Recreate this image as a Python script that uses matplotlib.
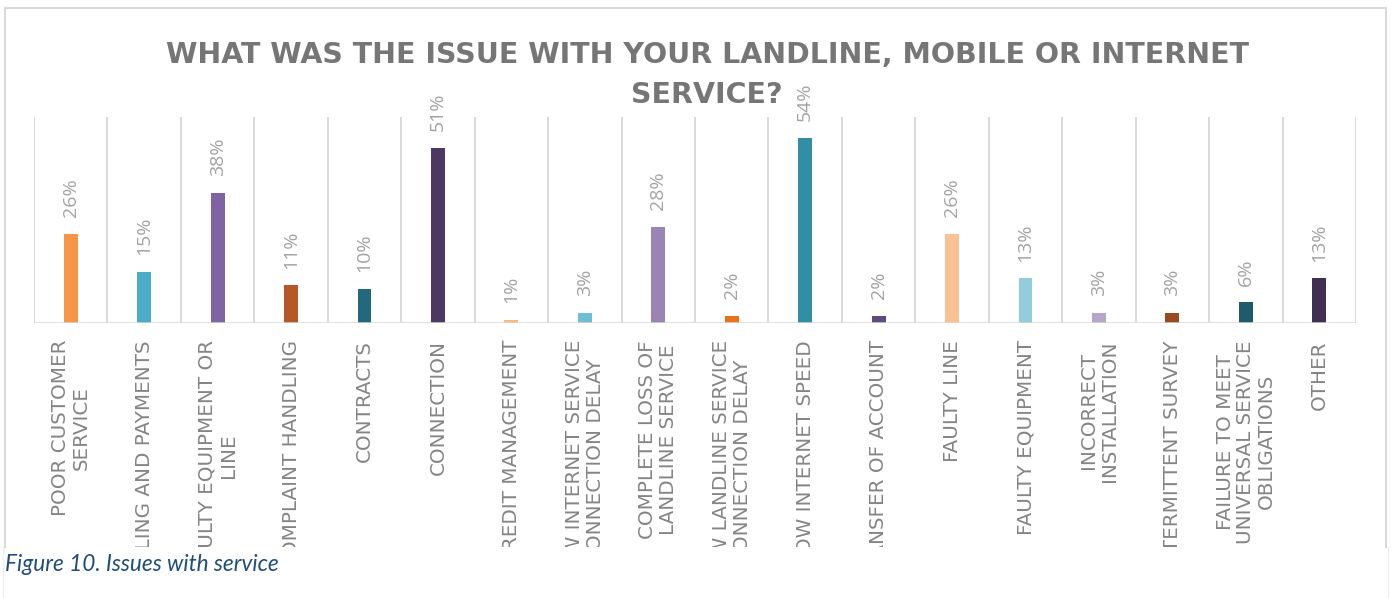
import matplotlib
matplotlib.use("Agg")
import matplotlib.pyplot as plt
from matplotlib import transforms
from matplotlib.lines import Line2D

categories = [
    "POOR CUSTOMER\nSERVICE",
    "BILLING AND PAYMENTS",
    "FAULTY EQUIPMENT OR\nLINE",
    "COMPLAINT HANDLING",
    "CONTRACTS",
    "CONNECTION",
    "CREDIT MANAGEMENT",
    "NEW INTERNET SERVICE\nCONNECTION DELAY",
    "COMPLETE LOSS OF\nLANDLINE SERVICE",
    "NEW LANDLINE SERVICE\nCONNECTION DELAY",
    "SLOW INTERNET SPEED",
    "TRANSFER OF ACCOUNT",
    "FAULTY LINE",
    "FAULTY EQUIPMENT",
    "INCORRECT\nINSTALLATION",
    "INTERMITTENT SURVEY",
    "FAILURE TO MEET\nUNIVERSAL SERVICE\nOBLIGATIONS",
    "OTHER",
]
percentages = [26, 15, 38, 11, 10, 51, 1, 3, 28, 2, 54, 2, 26, 13, 3, 3, 6, 13]
bar_colors = [
    "#F79646", "#4BACC6", "#8064A2", "#B65728", "#23697E", "#4D3863",
    "#F9B984", "#6FBFD3", "#9A84B5", "#E8731C", "#318EA5", "#5F4A7D",
    "#FAC192", "#93CDDD", "#B7A6CB", "#984B1E", "#1F5B6A", "#3F2F52",
]
title_lines = ["WHAT WAS THE ISSUE WITH YOUR LANDLINE, MOBILE OR INTERNET",
               "SERVICE?"]
caption = "Figure 10. Issues with service"

W, H = 1392, 598
fig = plt.figure(figsize=(W / 100, H / 100), dpi=100)
fig.patch.set_facecolor("white")


def fx(px):
    return px / W


def fy(py):
    return 1 - py / H


# plot area
ax = fig.add_axes([fx(34), fy(323), fx(1356) - fx(34), fy(117) - fy(323)])
ax.set_xlim(-0.5, len(categories) - 0.5)
ax.set_ylim(0, 60)
ax.axis("off")

grid_col = "#D9D9D9"
for b in range(len(categories) + 1):
    ax.axvline(b - 0.5, color=grid_col, lw=1.4, zorder=1)
ax.axhline(0, color=grid_col, lw=1.8, zorder=4)

x = list(range(len(categories)))
ax.bar(x, percentages, width=0.19, color=bar_colors, zorder=3)

for i, v in enumerate(percentages):
    ax.annotate(f"{v}%", (i, v), xytext=(0, 12), textcoords="offset points",
                rotation=90, ha="center", va="bottom", fontsize=14,
                family="Open Sans", color="#A3A3A3")

# chart frame, cut off at the bottom of the page region
clip = transforms.TransformedBbox(
    transforms.Bbox([[fx(5), fy(547)], [fx(1385), fy(8)]]), fig.transFigure)

lab_tr = transforms.blended_transform_factory(ax.transData, fig.transFigure)
for i, lab in enumerate(categories):
    t = fig.text(i, fy(340), lab, transform=lab_tr, rotation=90,
                 ha="center", va="top", multialignment="center",
                 fontsize=14.3, family="DejaVu Sans", color="#858585",
                 linespacing=1.12)
    t.set_clip_on(True)
    t.set_clip_box(clip)

frame_col = "#D9D9D9"
fig.add_artist(Line2D([fx(4.5), fx(4.5)], [fy(547), fy(7.5)], color=frame_col, lw=1.5))
fig.add_artist(Line2D([fx(4.5), fx(1385.5)], [fy(7.5), fy(7.5)], color=frame_col, lw=1.5))
fig.add_artist(Line2D([fx(1385.5), fx(1385.5)], [fy(7.5), fy(547)], color=frame_col, lw=1.5))
fig.add_artist(Line2D([fx(3), fx(3)], [fy(547), fy(598)], color="#EEEEEE", lw=1.0))
fig.add_artist(Line2D([fx(1387.5), fx(1387.5)], [fy(547), fy(598)], color="#EEEEEE", lw=1.0))

# two-line title, each line centred on the same axis
for line, base in zip(title_lines, (63, 103)):
    fig.text(fx(707), fy(base), line, ha="center", va="baseline",
             fontsize=20.5, fontweight="bold", family="DejaVu Sans",
             color="#767676")

fig.text(fx(5), fy(571), caption, ha="left", va="baseline", fontsize=16.3,
         family="Lato", style="italic", color="#1F4E79")

fig.savefig("out.png", dpi=100, facecolor="white")
